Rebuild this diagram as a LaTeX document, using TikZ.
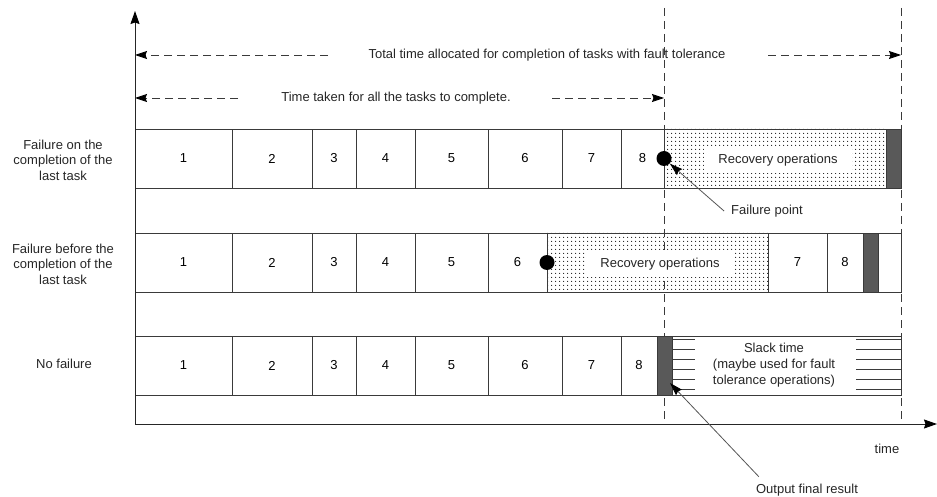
\documentclass[tikz,border=0pt]{standalone}
\usepackage{fontspec}
\setmainfont{Liberation Sans}
\usetikzlibrary{arrows.meta,patterns.meta,calc}
\definecolor{linec}{HTML}{3A3A3A}
\definecolor{darkc}{HTML}{595959}
\definecolor{ptrc}{HTML}{555555}
\tikzdeclarepattern{name=mydots, type=uncolored,
  bounding box={(-2pt,-2pt) and (2pt,2pt)}, tile size={(4pt,4pt)},
  code={\pgfpathcircle{\pgfpointorigin}{0.75pt}\pgfusepath{fill}}}
\newcommand\mycell[6][]{\node[cell,minimum width={(#4)-(#3)},#1] (#2) at ({((#3)+(#4))/2},#5) {#6};}
\begin{document}
\begin{tikzpicture}[x=1pt,y=-1pt,
  font=\fontsize{13}{15.5}\selectfont,
  cell/.style={draw=linec, fill=white, line width=0.9pt, minimum height=59pt, inner sep=0pt, outer sep=0pt},
  recov/.style={pattern=mydots, pattern color=black!90},
  darkbox/.style={fill=darkc},
  dot/.style={circle, fill=black, minimum size=15pt, inner sep=0pt},
  dashline/.style={draw=linec, line width=0.9pt, dash pattern=on 8pt off 5pt},
  tip/.style={-{Stealth[length=12pt,width=8pt,inset=1.5pt,color=black]}},
  axis/.style={draw=black!85, line width=1pt, -{Stealth[length=13pt,width=9pt,inset=1.5pt,color=black]}},
  ptr/.style={draw=ptrc, line width=0.8pt, -{Stealth[length=13pt,width=8pt,inset=1.5pt,color=black]}},
  lbl/.style={align=center, inner sep=0pt, text=black!85},
  ]
\useasboundingbox (0,0) rectangle (937,497);

% axes coordinates
\coordinate (origin) at (135,424);
\coordinate (ytop) at (135,11);
\coordinate (xend) at (937,424);

% dashed vertical markers (behind the rows)
\coordinate (v1t) at (664,8);
\coordinate (v1b) at (664,424);
\coordinate (v2t) at (901,8);
\coordinate (v2b) at (901,424);
\draw[dashline] (v1t) -- (v1b);
\draw[dashline] (v2t) -- (v2b);

% top dashed arrows
\coordinate (t1l) at (135,55);
\coordinate (t1a) at (328,55);
\coordinate (t1b) at (768,55);
\coordinate (t1r) at (901,55);
\node[lbl] (t1) at (547,55) {Total time allocated for completion of tasks with fault tolerance};
\draw[dashline,tip] (t1a) -- (t1l);
\draw[dashline,tip] (t1b) -- (t1r);

\coordinate (t2l) at (135,98);
\coordinate (t2a) at (238,98);
\coordinate (t2b) at (552,98);
\coordinate (t2r) at (664,98);
\node[lbl] (t2) at (396,98) {Time taken for all the tasks to complete.};
\draw[dashline,tip] (t2a) -- (t2l);
\draw[dashline,tip] (t2b) -- (t2r);

% row 1
\def\ya{158.5}
\mycell{a1}{135}{232}{\ya}{1}
\mycell{a2}{232}{312}{\ya}{2}
\mycell{a3}{312}{356}{\ya}{3}
\mycell{a4}{356}{415}{\ya}{4}
\mycell{a5}{415}{488}{\ya}{5}
\mycell{a6}{488}{562}{\ya}{6}
\mycell{a7}{562}{621}{\ya}{7}
\mycell{a8}{621}{664}{\ya}{8}
\mycell[recov]{a9}{664}{886}{\ya}{}
\mycell[darkbox]{a10}{886}{901}{\ya}{}
\node[fill=white, inner xsep=14pt, inner ysep=7pt, text=black!85] (a9t) at (778,160) {Recovery operations};
\node[dot] (d1) at (a8.east) {};

% row 2
\def\yb{262.5}
\mycell{b1}{135}{232}{\yb}{1}
\mycell{b2}{232}{312}{\yb}{2}
\mycell{b3}{312}{356}{\yb}{3}
\mycell{b4}{356}{415}{\yb}{4}
\mycell{b5}{415}{488}{\yb}{5}
\mycell{b6}{488}{547}{\yb}{6}
\mycell[recov]{b7}{547}{768}{\yb}{}
\mycell{b8}{768}{827}{\yb}{7}
\mycell{b9}{827}{863}{\yb}{8}
\mycell[darkbox]{b10}{863}{878}{\yb}{}
\mycell{b11}{878}{901}{\yb}{}
\node[fill=white, inner xsep=14pt, inner ysep=7pt, text=black!85] (b7t) at (660,264) {Recovery operations};
\node[dot] (d2) at (b6.east) {};

% row 3
\def\yc{365.5}
\mycell{c1}{135}{232}{\yc}{1}
\mycell{c2}{232}{312}{\yc}{2}
\mycell{c3}{312}{356}{\yc}{3}
\mycell{c4}{356}{415}{\yc}{4}
\mycell{c5}{415}{488}{\yc}{5}
\mycell{c6}{488}{562}{\yc}{6}
\mycell{c7}{562}{621}{\yc}{7}
\mycell{c8}{621}{657}{\yc}{8}
\mycell[darkbox]{c9}{657}{672}{\yc}{}
\mycell{c10}{672}{901}{\yc}{}
\foreach \yy in {339,349,...,389} {
  \draw[draw=linec, line width=0.9pt] (672,\yy) -- (695,\yy);
  \draw[draw=linec, line width=0.9pt] (856,\yy) -- (901,\yy);
}
\node[lbl, font=\fontsize{13}{16}\selectfont] (c10t) at (774,365) {Slack time\\(maybe used for fault\\tolerance operations)};

% axes
\draw[axis] (origin) -- (ytop);
\draw[axis] (origin) -- (xend);

% row labels
\node[lbl] (l1) at (63,160) {Failure on the\\completion of the\\last task};
\node[lbl] (l2) at (63,264) {Failure before the\\completion of the\\last task};
\node[lbl] (l3) at (64,364) {No failure};

% annotations
\node[lbl, inner xsep=7pt] (fp) at (767,211) {Failure point};
\draw[ptr] (fp.west) -- (d1);
\node[lbl] (ofr) at (807,490) {Output final result};
\node[lbl] (tm) at (887,449) {time};
\draw[ptr] ($(ofr.north west)+(3,-7)$) -- ($(c9.south east)+(-2,-12)$);
\end{tikzpicture}
\end{document}
